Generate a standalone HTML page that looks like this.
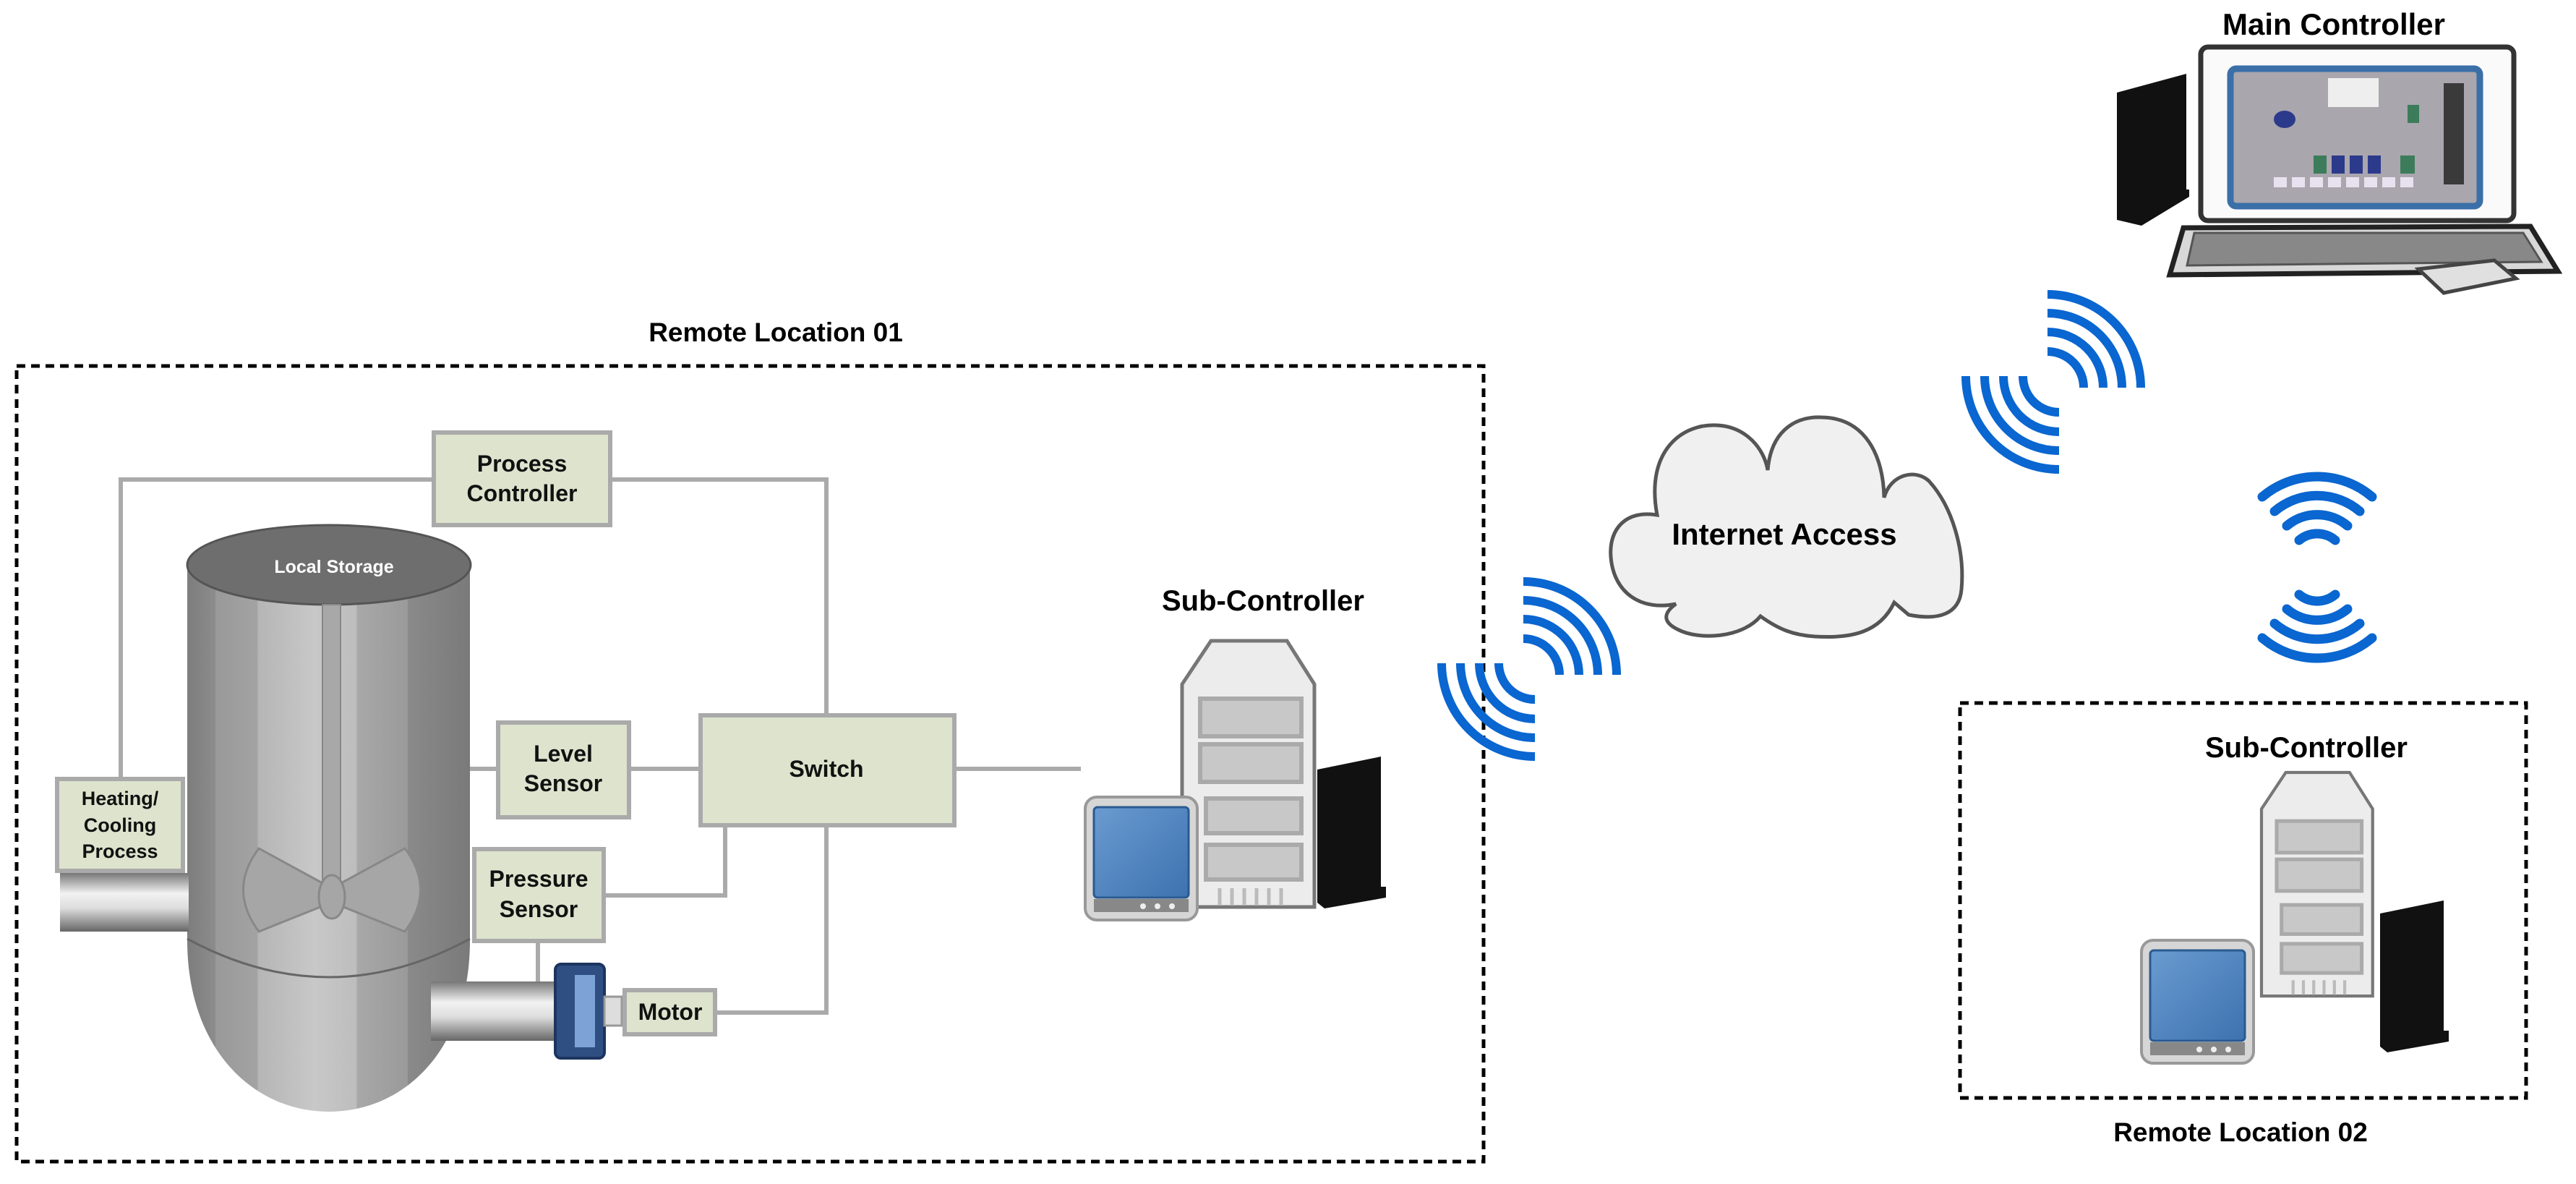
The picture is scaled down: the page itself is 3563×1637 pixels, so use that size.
<!DOCTYPE html>
<html><head><meta charset="utf-8"><style>html,body{margin:0;padding:0;background:#fff}svg{display:block}</style></head>
<body>
<svg width="3563" height="1637" viewBox="0 0 3563 1637" xmlns="http://www.w3.org/2000/svg" font-family="Liberation Sans, sans-serif" font-weight="bold">
<defs>
<linearGradient id="cyl" x1="0" x2="1" y1="0" y2="0">
<stop offset="0" stop-color="#7d7d7d"/><stop offset="0.1" stop-color="#8c8c8c"/><stop offset="0.1" stop-color="#999"/><stop offset="0.25" stop-color="#a3a3a3"/><stop offset="0.25" stop-color="#b5b5b5"/><stop offset="0.45" stop-color="#c8c8c8"/><stop offset="0.6" stop-color="#bdbdbd"/><stop offset="0.6" stop-color="#a8a8a8"/><stop offset="0.78" stop-color="#9a9a9a"/><stop offset="0.78" stop-color="#8a8a8a"/><stop offset="1" stop-color="#7a7a7a"/>
</linearGradient>
<linearGradient id="pipe" x1="0" x2="0" y1="0" y2="1">
<stop offset="0" stop-color="#777"/><stop offset="0.35" stop-color="#f2f2f2"/><stop offset="0.6" stop-color="#ddd"/><stop offset="1" stop-color="#666"/>
</linearGradient>
<linearGradient id="scr" x1="0" x2="1" y1="0" y2="1"><stop offset="0" stop-color="#6a9bd0"/><stop offset="1" stop-color="#3d72b0"/></linearGradient>
<g id="server">
<path d="M0,60 L40,0 L145,0 L183,60 L183,368 L0,368 Z" fill="#ececec" stroke="#777" stroke-width="5"/>
<rect x="25" y="80" width="140" height="52" fill="#c8c8c8" stroke="#aaa" stroke-width="6"/>
<rect x="25" y="143" width="140" height="52" fill="#c8c8c8" stroke="#aaa" stroke-width="6"/>
<rect x="33" y="218" width="132" height="48" fill="#c8c8c8" stroke="#aaa" stroke-width="6"/>
<rect x="33" y="282" width="132" height="48" fill="#c8c8c8" stroke="#aaa" stroke-width="6"/>
<g stroke="#bbb" stroke-width="5"><line x1="52" y1="342" x2="52" y2="366"/><line x1="69" y1="342" x2="69" y2="366"/><line x1="86" y1="342" x2="86" y2="366"/><line x1="103" y1="342" x2="103" y2="366"/><line x1="120" y1="342" x2="120" y2="366"/><line x1="137" y1="342" x2="137" y2="366"/></g>
</g>
<g id="blk"><path d="M0,18 L88,0 L88,180 L95,180 L95,195 L10,210 L0,202 Z" fill="#111"/></g>
<g id="mon"><rect x="0" y="0" width="155" height="170" rx="16" fill="#d6d6d6" stroke="#999" stroke-width="4"/><rect x="12" y="14" width="131" height="125" rx="5" fill="url(#scr)" stroke="#2a5a90" stroke-width="3"/><rect x="12" y="141" width="131" height="18" fill="#888"/><circle cx="80" cy="151" r="4" fill="#eee"/><circle cx="100" cy="151" r="4" fill="#eee"/><circle cx="120" cy="151" r="4" fill="#eee"/></g>
<g id="arcs" fill="none" stroke="#0a66d0" stroke-width="12">
<path d="M-50,0 A50,50 0 0 0 0,50"/><path d="M-77,0 A77,77 0 0 0 0,77"/><path d="M-103,0 A103,103 0 0 0 0,103"/><path d="M-129,0 A129,129 0 0 0 0,129"/>
</g>
<g id="up" fill="none" stroke="#0a66d0" stroke-width="13" stroke-linecap="round">
<path d="M-25,-30 A39,39 0 0 1 25,-30"/><path d="M-42,-50 A65,65 0 0 1 42,-50"/><path d="M-59,-70 A91,91 0 0 1 59,-70"/><path d="M-76,-90 A117,117 0 0 1 76,-90"/>
</g>
</defs>

<!-- Remote Location 01 -->
<text x="1073" y="472" font-size="37" text-anchor="middle">Remote Location 01</text>
<rect x="23" y="506" width="2029" height="1100" fill="none" stroke="#000" stroke-width="5" stroke-dasharray="12,8"/>

<!-- connectors -->
<g stroke="#aaa" stroke-width="6" fill="none">
<polyline points="167,1080 167,663 600,663"/>
<polyline points="844,663 1143,663 1143,989"/>
<line x1="640" y1="1063" x2="689" y2="1063"/>
<line x1="870" y1="1063" x2="969" y2="1063"/>
<line x1="1320" y1="1063" x2="1495" y2="1063"/>
<polyline points="835,1238 1003,1238 1003,1141"/>
<polyline points="989,1400 1143,1400 1143,1141"/>
<line x1="744" y1="1301" x2="744" y2="1359"/>
</g>

<!-- tank -->
<path d="M259,781 L650,781 L650,1300 C650,1450 560,1537 455,1537 C350,1537 259,1450 259,1300 Z" fill="url(#cyl)"/>
<path d="M259,1298 Q455,1404 650,1298" fill="none" stroke="#666" stroke-width="3"/>
<ellipse cx="455" cy="781" rx="196" ry="55" fill="#6e6e6e" stroke="#555" stroke-width="3"/>
<text x="462" y="792" font-size="25" fill="#fff" text-anchor="middle">Local Storage</text>
<rect x="446" y="836" width="25" height="400" fill="#a8a8a8" stroke="#888" stroke-width="2"/>
<g fill="#a6a6a6" stroke="#888" stroke-width="3">
<path d="M448,1222 L358,1173 Q315,1230 358,1288 L448,1252 Z"/>
<path d="M470,1222 L560,1173 Q603,1230 560,1288 L470,1252 Z"/>
<ellipse cx="459" cy="1240" rx="18" ry="30"/>
</g>
<rect x="83" y="1207" width="178" height="81" fill="url(#pipe)"/>
<rect x="596" y="1357" width="172" height="82" fill="url(#pipe)"/>
<rect x="768" y="1333" width="68" height="130" rx="8" fill="#2f4f82" stroke="#1c3560" stroke-width="4"/>
<rect x="795" y="1348" width="28" height="100" fill="#7da2d6"/>
<rect x="836" y="1378" width="24" height="40" fill="#ddd" stroke="#999" stroke-width="3"/>

<!-- boxes -->
<g fill="#dde3cd" stroke="#aaa" stroke-width="6">
<rect x="600" y="598" width="244" height="128"/>
<rect x="79" y="1077" width="174" height="127"/>
<rect x="689" y="999" width="181" height="131"/>
<rect x="969" y="989" width="351" height="152"/>
<rect x="656" y="1174" width="179" height="127"/>
<rect x="864" y="1369" width="125" height="61"/>
</g>
<g font-size="32" text-anchor="middle" fill="#111">
<text x="722" y="652">Process</text><text x="722" y="693">Controller</text>
<text x="166" y="1113" font-size="27">Heating/</text><text x="166" y="1150" font-size="27">Cooling</text><text x="166" y="1186" font-size="27">Process</text>
<text x="779" y="1053">Level</text><text x="779" y="1094">Sensor</text>
<text x="1143" y="1074">Switch</text>
<text x="745" y="1226">Pressure</text><text x="745" y="1268">Sensor</text>
<text x="927" y="1410">Motor</text>
</g>

<!-- sub-controller 1 -->
<text x="1747" y="844" font-size="40" text-anchor="middle">Sub-Controller</text>
<use href="#blk" x="1822" y="1046"/>
<use href="#server" x="1635" y="886"/>
<use href="#mon" x="1501" y="1102"/>

<!-- wifi 1 -->
<use href="#arcs" transform="translate(2123,917)"/>
<use href="#arcs" transform="translate(2107,933) rotate(180)"/>
<!-- wifi 2 -->
<use href="#arcs" transform="translate(2848,520)"/>
<use href="#arcs" transform="translate(2832,536) rotate(180)"/>
<!-- wifi 3 -->
<use href="#up" transform="translate(3205,777)"/>
<use href="#up" transform="translate(3205,792) scale(1,-1)"/>

<!-- cloud -->
<path d="M2292,712 C2275,620 2330,585 2375,588 C2415,590 2440,620 2445,650 C2450,590 2490,575 2520,577 C2580,578 2605,630 2606,688 C2615,655 2650,648 2668,665 C2700,700 2718,760 2713,815 C2710,850 2680,858 2640,850 L2620,833 C2600,875 2560,883 2510,880 C2480,878 2460,870 2435,852 C2410,882 2350,886 2320,870 C2300,860 2300,848 2318,835 C2270,845 2232,820 2228,770 C2225,730 2250,705 2292,712 Z" fill="#f0f0f0" stroke="#555" stroke-width="5"/>
<text x="2468" y="753" font-size="42" text-anchor="middle">Internet Access</text>

<!-- Remote Location 02 -->
<rect x="2711" y="972" width="783" height="546" fill="none" stroke="#000" stroke-width="5" stroke-dasharray="12,8"/>
<text x="3099" y="1578" font-size="37" text-anchor="middle">Remote Location 02</text>
<text x="3190" y="1047" font-size="40" text-anchor="middle">Sub-Controller</text>
<use href="#blk" x="3292" y="1245"/>
<use href="#server" transform="translate(3128,1068) scale(0.84)"/>
<use href="#mon" x="2962" y="1300"/>

<!-- Main controller -->
<text x="3228" y="48" font-size="42" text-anchor="middle">Main Controller</text>
<path d="M2928,128 L3024,102 L3024,262 L3028,262 L3028,272 L2962,312 L2928,304 Z" fill="#111"/>
<rect x="3044" y="65" width="433" height="240" rx="10" fill="#fafafa" stroke="#333" stroke-width="7"/>
<rect x="3085" y="95" width="345" height="190" rx="8" fill="#a9a6ad" stroke="#3a6fa8" stroke-width="9"/>
<rect x="3220" y="108" width="70" height="40" fill="#eee"/>
<g fill="#e8e2f0"><rect x="3145" y="245" width="18" height="14"/><rect x="3170" y="245" width="18" height="14"/><rect x="3195" y="245" width="18" height="14"/><rect x="3220" y="245" width="18" height="14"/><rect x="3245" y="245" width="18" height="14"/><rect x="3270" y="245" width="18" height="14"/><rect x="3295" y="245" width="18" height="14"/><rect x="3320" y="245" width="18" height="14"/></g>
<g fill="#3c7c5a"><rect x="3200" y="215" width="18" height="25"/><rect x="3320" y="215" width="20" height="25"/><rect x="3330" y="145" width="16" height="25"/></g>
<g fill="#2c3a8c"><rect x="3225" y="215" width="18" height="25"/><rect x="3250" y="215" width="18" height="25"/><rect x="3275" y="215" width="18" height="25"/><ellipse cx="3160" cy="165" rx="15" ry="12"/></g>
<rect x="3380" y="115" width="28" height="140" fill="#3a3a3a"/>
<path d="M3020,315 L3500,313 L3538,375 L3001,380 Z" fill="#d8d8d8" stroke="#222" stroke-width="7"/>
<path d="M3035,322 L3490,322 L3515,362 L3025,367 Z" fill="#888" stroke="#555" stroke-width="3"/>
<path d="M3345,372 L3450,360 L3480,385 L3380,405 Z" fill="#e0e0e0" stroke="#444" stroke-width="5"/>
</svg>
</body></html>
